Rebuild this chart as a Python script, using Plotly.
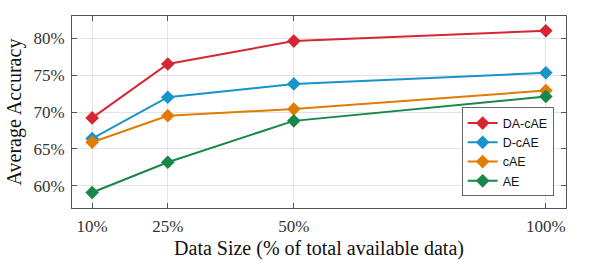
import plotly.graph_objects as go

data_size = [10, 25, 50, 100]
tick_labels = ["10%", "25%", "50%", "100%"]
y_ticks = [60, 65, 70, 75, 80]
y_tick_labels = ["60%", "65%", "70%", "75%", "80%"]

series_names = ["DA-cAE", "D-cAE", "cAE", "AE"]
da_cae = [69.2, 76.5, 79.6, 81.0]
d_cae = [66.4, 72.0, 73.8, 75.3]
cae = [65.9, 69.5, 70.4, 72.9]
ae = [59.1, 63.2, 68.8, 72.1]
colors = ["#D62631", "#1A93C9", "#E07C00", "#17874A"]

fig = go.Figure()
for name, vals, c in zip(series_names, [da_cae, d_cae, cae, ae], colors):
    fig.add_trace(go.Scatter(
        x=data_size, y=vals, name=name, mode="lines+markers",
        line=dict(color=c, width=2),
        marker=dict(symbol="diamond", size=10.5, color=c, line=dict(width=0)),
    ))

axis_common = dict(
    showline=True, linecolor="#555555", linewidth=1, mirror="ticks",
    ticks="inside", ticklen=5, tickcolor="#555555",
    showgrid=True, gridcolor="#E3E3E3", gridwidth=1, zeroline=False,
    tickfont=dict(family="Liberation Serif", size=17, color="#333333"),
    ticklabelstandoff=3, automargin=False,
)

fig.update_layout(
    width=598, height=260,
    margin=dict(l=72, r=32, t=16, b=52),
    paper_bgcolor="white", plot_bgcolor="white",
    xaxis=dict(range=[6, 104], tickvals=data_size, ticktext=tick_labels,
               title=dict(text="Data Size (% of total available data)",
                          font=dict(family="Liberation Serif", size=20, color="#111111"),
                          standoff=12),
               **axis_common),
    yaxis=dict(range=[57, 83], tickvals=y_ticks, ticktext=y_tick_labels,
               title=dict(text="Average Accuracy",
                          font=dict(family="Liberation Serif", size=20, color="#111111"),
                          standoff=6),
               **axis_common),
    legend=dict(x=0.975, y=0.06, xanchor="right", yanchor="bottom",
                bgcolor="white", bordercolor="#666666", borderwidth=1,
                font=dict(family="Liberation Sans", size=12.5, color="#111111"),
                tracegroupgap=0, itemwidth=30),
    showlegend=True,
)

fig.write_html("out.html", config={"displayModeBar": False},
               post_script="document.body.style.margin='0';document.body.style.padding='0';")
